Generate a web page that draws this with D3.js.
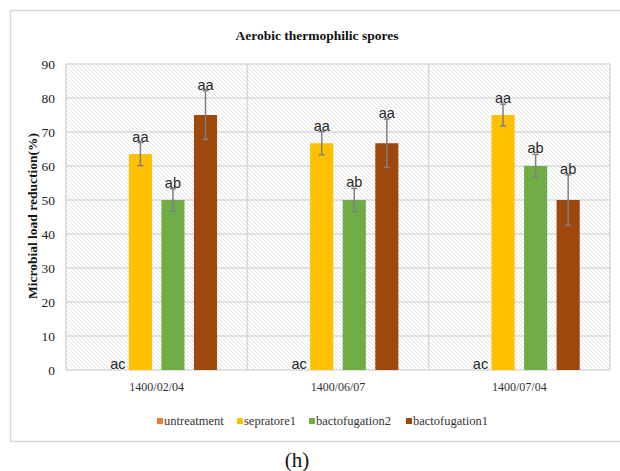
<!DOCTYPE html>
<html>
<head>
<meta charset="utf-8">
<script src="https://cdn.jsdelivr.net/npm/d3@7"></script>
<style>
  html, body { margin: 0; padding: 0; background: #fff; }
  svg { display: block; }
</style>
</head>
<body>
<svg id="chart" width="620" height="471"></svg>
<script>
// ---- Data ----
const categories = ["1400/02/04", "1400/06/07", "1400/07/04"];
const series = ["untreatment", "sepratore1", "bactofugation2", "bactofugation1"];
const untreatment    = [0, 0, 0];
const sepratore1     = [63.5, 66.7, 75];
const bactofugation2 = [50, 50, 60];
const bactofugation1 = [75, 66.7, 50];
const errUntreatment    = [0, 0, 0];
const errSepratore1     = [3.4, 3.4, 3.2];
const errBactofugation2 = [3.3, 3.4, 3.4];
const errBactofugation1 = [7.2, 7.1, 7.4];
const lblUntreatment    = ["ac", "ac", "ac"];
const lblSepratore1     = ["aa", "aa", "aa"];
const lblBactofugation2 = ["ab", "ab", "ab"];
const lblBactofugation1 = ["aa", "aa", "ab"];
const yTicks = [0, 10, 20, 30, 40, 50, 60, 70, 80, 90];
const colors = ["#ED7D31", "#FFC000", "#70AD47", "#9E480E"];

const values = [untreatment, sepratore1, bactofugation2, bactofugation1];
const errors = [errUntreatment, errSepratore1, errBactofugation2, errBactofugation1];
const labels = [lblUntreatment, lblSepratore1, lblBactofugation2, lblBactofugation1];

const svg = d3.select("#chart");
const plot = { left: 66, right: 610, top: 64, bottom: 370 };

// Outer frame
svg.append("rect").attr("x", 10.5).attr("y", 10.5).attr("width", 620).attr("height", 431)
  .attr("fill", "#fff").attr("stroke", "#d9d9d9").attr("stroke-width", 1.5);

// Hatch pattern
const defs = svg.append("defs");
const pat = defs.append("pattern").attr("id", "hatch").attr("patternUnits", "userSpaceOnUse")
  .attr("width", 4).attr("height", 4);
pat.append("rect").attr("width", 4).attr("height", 4).attr("fill", "#fff");
pat.append("path").attr("d", "M-1,-1 L5,5 M-1,3 L1,5 M3,-1 L5,1")
  .attr("stroke", "#dedede").attr("stroke-width", 0.8);

const x = d3.scaleBand().domain(categories).range([plot.left, plot.right]).padding(0);
const xs = d3.scaleBand().domain(series).range([0, x.bandwidth()]).paddingInner(0.29).paddingOuter(0.93);
const y = d3.scaleLinear().domain([0, 90]).range([plot.bottom, plot.top]);

svg.append("rect").attr("x", plot.left).attr("y", plot.top)
  .attr("width", plot.right - plot.left).attr("height", plot.bottom - plot.top)
  .attr("fill", "url(#hatch)");

// Grid lines
const grid = svg.append("g");
grid.selectAll("line.h").data(yTicks).enter().append("line")
  .attr("x1", plot.left).attr("x2", plot.right)
  .attr("y1", d => y(d)).attr("y2", d => y(d))
  .attr("stroke", "#d9d9d9").attr("stroke-width", 1.6);
const vlines = categories.map(c => x(c)).concat([plot.right]);
grid.selectAll("line.v").data(vlines).enter().append("line")
  .attr("x1", d => d).attr("x2", d => d)
  .attr("y1", plot.top).attr("y2", plot.bottom)
  .attr("stroke", "#d9d9d9").attr("stroke-width", 1.6);

// Y axis tick labels
const yAxis = d3.axisLeft(y).tickValues(yTicks).tickSize(0).tickPadding(11);
const gy = svg.append("g").attr("transform", `translate(${plot.left},0)`).call(yAxis);
gy.select(".domain").remove();
gy.selectAll("text").attr("font-family", "Liberation Serif").attr("font-size", 13.5).attr("fill", "#222");

// X axis labels
const xAxis = d3.axisBottom(x).tickSize(0).tickPadding(12);
const gx = svg.append("g").attr("transform", `translate(0,${plot.bottom})`).call(xAxis);
gx.select(".domain").remove();
gx.selectAll("text").attr("font-family", "Liberation Serif").attr("font-size", 12).attr("fill", "#333");

// Bars
const flat = [];
series.forEach((s, si) => {
  categories.forEach((c, ci) => {
    flat.push({ s, si, c, v: values[si][ci], e: errors[si][ci], l: labels[si][ci] });
  });
});
const bars = svg.append("g");
bars.selectAll("rect").data(flat).enter().append("rect")
  .attr("x", d => x(d.c) + xs(d.s))
  .attr("width", xs.bandwidth())
  .attr("y", d => y(d.v))
  .attr("height", d => y(0) - y(d.v))
  .attr("fill", d => colors[d.si]);

// Error bars
const eb = svg.append("g").attr("stroke", "#7f7f7f").attr("stroke-width", 1.5);
flat.filter(d => d.e > 0).forEach(d => {
  const cx = x(d.c) + xs(d.s) + xs.bandwidth() / 2;
  eb.append("line").attr("x1", cx).attr("x2", cx).attr("y1", y(d.v + d.e)).attr("y2", y(d.v - d.e));
  [d.v + d.e, d.v - d.e].forEach(v => {
    eb.append("line").attr("x1", cx - 3).attr("x2", cx + 3).attr("y1", y(v)).attr("y2", y(v));
  });
});

// Data labels
svg.append("g").selectAll("text").data(flat).enter().append("text")
  .attr("x", d => x(d.c) + xs(d.s) + xs.bandwidth() / 2 + (d.v === 0 ? 10 : 0))
  .attr("y", d => y(d.v + d.e) - 1)
  .attr("text-anchor", "middle")
  .attr("font-family", "Liberation Sans Narrow, Liberation Sans")
  .attr("font-size", 14.5)
  .attr("fill", "#262626")
  .text(d => d.l);

// Title
svg.append("text").attr("x", 317).attr("y", 40).attr("text-anchor", "middle")
  .attr("font-family", "Liberation Serif").attr("font-weight", "bold").attr("font-size", 13.5)
  .attr("fill", "#111").text("Aerobic thermophilic spores");

// Y label
svg.append("text").attr("transform", "translate(37,216) rotate(-90)").attr("text-anchor", "middle")
  .attr("font-family", "Liberation Serif").attr("font-weight", "bold").attr("font-size", 13.5)
  .attr("fill", "#111").text("Microbial load reduction(%)");

// Legend
const legendX = [157, 237, 309, 406];
const lg = svg.append("g");
series.forEach((s, i) => {
  lg.append("rect").attr("x", legendX[i]).attr("y", 418).attr("width", 6).attr("height", 6).attr("fill", colors[i]);
  lg.append("text").attr("x", legendX[i] + 7).attr("y", 425)
    .attr("font-family", "Liberation Serif").attr("font-size", 12.5).attr("fill", "#333").text(s);
});

// Caption
svg.append("text").attr("x", 297).attr("y", 467).attr("text-anchor", "middle")
  .attr("font-family", "Liberation Serif").attr("font-size", 21).attr("fill", "#111").text("(h)");
</script>
</body>
</html>
